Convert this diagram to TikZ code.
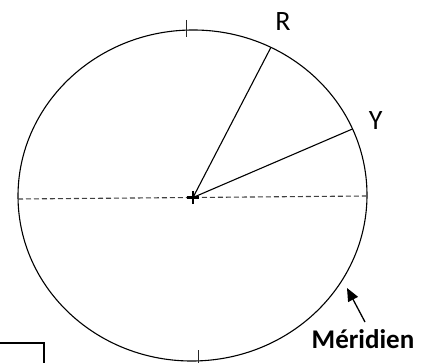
\documentclass[tikz,border=0pt]{standalone}
\usepackage{fontspec}
\setmainfont{Carlito}
\usetikzlibrary{arrows.meta}
\begin{document}
\begin{tikzpicture}[x=1pt,y=1pt,
  outline/.style={line width=1.1pt,black},
  radius line/.style={line width=1.1pt,black},
  axisdash/.style={line width=1.1pt,black!75,dash pattern=on 5pt off 3pt},
  tickmark/.style={line width=0.9pt,black!85},
  lbl/.style={inner sep=0pt,anchor=base,font=\fontsize{28}{32}\selectfont},
  boldlbl/.style={inner sep=0pt,anchor=base,font=\fontsize{27}{32}\selectfont\bfseries},
  pointer/.style={line width=1.3pt,-{Triangle[length=13pt,width=11pt]}}]
\useasboundingbox (0,0) rectangle (430,362);
\clip (0,0) rectangle (430,362);
% ellipse (meridian)
\coordinate (C) at (192.5,166.5);
\draw[outline,rotate around={2:(C)}] (C) ellipse [x radius=174.5, y radius=165.5];
\begin{scope}[shift={(C)},rotate=2]
  \coordinate (Rend) at ({174.5*cos(61.4)},{165.5*sin(61.4)});
  \coordinate (Yend) at ({174.5*cos(21.6)},{165.5*sin(21.6)});
\end{scope}
% centre and axis
\coordinate (O) at (193,164.5);
\coordinate (Wend) at (18,163);
\coordinate (Eend) at (366,166);
\draw[axisdash] (Wend) -- (Eend);
\draw[radius line] (O) -- (Rend);
\draw[radius line] (O) -- (Yend);
\draw[line width=2.8pt] ([xshift=-6pt]O) -- ([xshift=6pt]O);
\draw[line width=2.8pt] ([yshift=-6.5pt]O) -- ([yshift=6.5pt]O);
% ticks
\coordinate (Ttop) at (186.5,342);
\coordinate (Tbot) at (186.5,325);
\draw[tickmark] (Ttop) -- (Tbot);
\coordinate (Btop) at (198.3,12);
\coordinate (Bbot) at (198.3,-2);
\draw[tickmark] (Btop) -- (Bbot);
% labels
\node[lbl] (R) at (283,331) {R};
\node[lbl] (Y) at (375.7,232.6) {Y};
\node[boldlbl] (mer) at (363,14) {Méridien};
\coordinate (tail) at (365,40);
\coordinate (tip) at (347,74);
\draw[pointer] (tail) -- (tip);
% partial box
\coordinate (boxA) at (-5,19);
\coordinate (boxB) at (44,19);
\coordinate (boxC) at (44,-5);
\draw[line width=1.1pt] (boxA) -- (boxB) -- (boxC);
\end{tikzpicture}
\end{document}
